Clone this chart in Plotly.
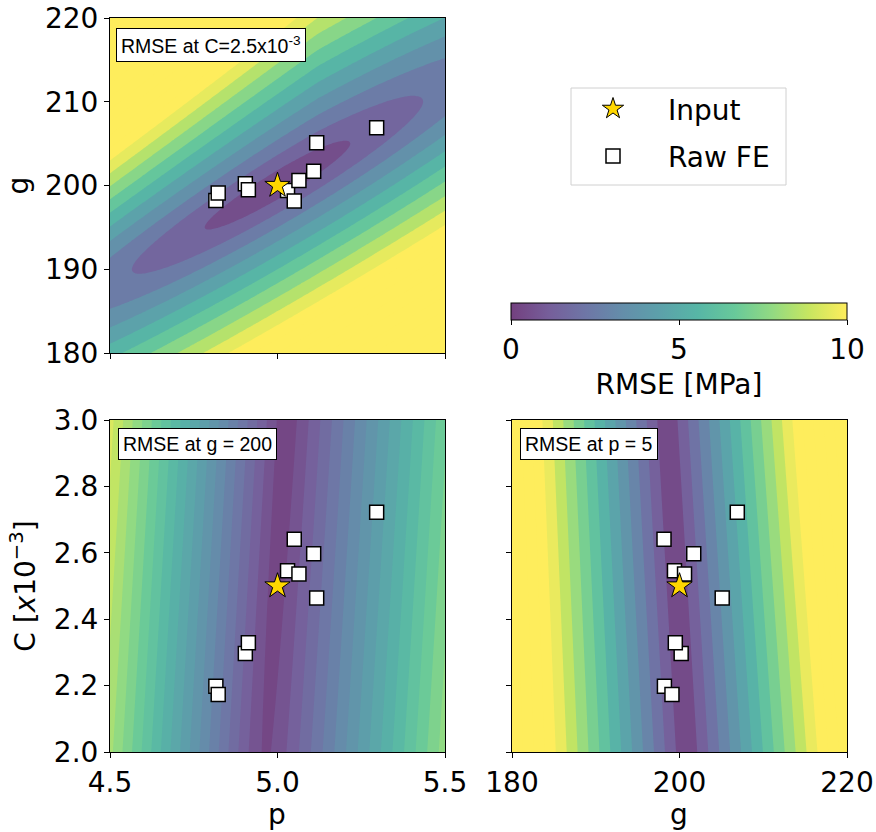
import numpy as np
import plotly.graph_objects as go

# ---------------- data ----------------
# Raw FE points (p, g, C[x1e-3])
p_fe = [4.816, 4.823, 4.904, 4.913, 5.030, 5.050, 5.064, 5.108, 5.117, 5.296]
g_fe = [198.2, 199.1, 200.2, 199.5, 199.4, 198.15, 200.6, 201.7, 205.1, 206.9]
C_fe = [2.198, 2.173, 2.297, 2.329, 2.546, 2.641, 2.536, 2.597, 2.464, 2.722]
# Input point
p_in = [5.0]
g_in = [200.0]
C_in = [2.5]

# RMSE surface descriptors estimated from the contour bands
# top panel (C = 2.5e-3): valley line slope dg/dp, cross gradients, along gradient, level step
top_valley_slope = 23.0
top_cross_grad = [0.60, 0.52]      # below / above valley [MPa per unit g]
top_upper_gain = 0.47              # extra steepening of upper side for low p
top_upper_ref = 5.12
top_along_grad = 4.6               # [MPa per unit p]
top_level = 1.0
# bottom-left (g = 200): valley p at C=2.0 / 3.0, slopes left/right, floor at C=2.0/3.0
bl_valley = [4.965, 5.025]
bl_slopes = [17.5, 14.5]
bl_floor = [0.45, 0.15]
bl_level = 0.5
# bottom-right (p = 5): valley g at C=2.0 / 3.0, slopes at C=2.0 / 3.0
br_valley = [200.85, 198.55]
br_slopes = [0.64, 0.67]
br_floor = 0.2
br_level = 10.0 / 12.0

# ---------------- surfaces ----------------
n = 161
pp = np.linspace(4.5, 5.5, n)
gg = np.linspace(180, 220, n)
cc = np.linspace(2.0, 3.0, n)

P, G = np.meshgrid(pp, gg)
u = G - (g_in[0] + top_valley_slope * (P - p_in[0]))
b = np.where(u > 0,
             top_cross_grad[1] * (1 + top_upper_gain * np.clip(top_upper_ref - P, 0, None)),
             top_cross_grad[0])
Z_top = np.sqrt((b * u) ** 2 + (top_along_grad * (P - p_in[0])) ** 2)

P2, C2 = np.meshgrid(pp, cc)
t2 = (C2 - 2.0)
p0 = bl_valley[0] + t2 * (bl_valley[1] - bl_valley[0])
fl = bl_floor[0] + t2 * (bl_floor[1] - bl_floor[0])
dp = P2 - p0
Z_bl = np.sqrt((np.where(dp < 0, bl_slopes[0], bl_slopes[1]) * dp) ** 2 + fl ** 2)

G3, C3 = np.meshgrid(gg, cc)
t3 = (C3 - 2.0)
g0 = br_valley[0] + t3 * (br_valley[1] - br_valley[0])
k3 = br_slopes[0] + t3 * (br_slopes[1] - br_slopes[0])
Z_br = np.sqrt((k3 * (G3 - g0)) ** 2 + br_floor ** 2)

# ---------------- colours ----------------
vir = ['#440154', '#482878', '#3e4989', '#31688e', '#26828e',
       '#1f9e89', '#35b779', '#6ece58', '#b5de2b', '#fde725']
alpha = 0.75


def blend(h):
    r, g, bb = int(h[1:3], 16), int(h[3:5], 16), int(h[5:7], 16)
    f = lambda c: round(alpha * c + (1 - alpha) * 255)
    return f'rgb({f(r)},{f(g)},{f(bb)})'


cscale = [[i / 9, blend(c)] for i, c in enumerate(vir)]

W, H = 876, 832
TICKF = dict(family='DejaVu Sans', size=28, color='black')
BOXF = dict(family='Liberation Sans, Arial', size=19.5, color='black')


def contour(x, y, z, step, xa, ya):
    return go.Contour(x=x, y=y, z=z, colorscale=cscale, zmin=0, zmax=10,
                      autocontour=False,
                      contours=dict(start=0, end=40, size=step, coloring='fill', showlines=False),
                      line=dict(width=0, smoothing=1), showscale=False,
                      hoverinfo='skip', xaxis=xa, yaxis=ya)


fig = go.Figure()
fig.add_trace(contour(pp, gg, Z_top, top_level, 'x', 'y'))
fig.add_trace(contour(pp, cc, Z_bl, bl_level, 'x2', 'y2'))
fig.add_trace(contour(gg, cc, Z_br, br_level, 'x3', 'y3'))

sq = dict(symbol='square', size=14, color='white', line=dict(color='black', width=1.5))
st = dict(symbol='star', size=19, color='#FFD700', line=dict(color='black', width=1))

panels = [(p_fe, g_fe, p_in, g_in, 'x', 'y'),
          (p_fe, C_fe, p_in, C_in, 'x2', 'y2'),
          (g_fe, C_fe, g_in, C_in, 'x3', 'y3')]
for i, (xf, yf, xi, yi, xa, ya) in enumerate(panels):
    fig.add_trace(go.Scatter(x=xf, y=yf, mode='markers', marker=sq, name='Raw FE',
                             legendgroup='fe', legendrank=2, showlegend=(i == 0),
                             hoverinfo='skip', xaxis=xa, yaxis=ya))
    fig.add_trace(go.Scatter(x=xi, y=yi, mode='markers', marker=st, name='Input',
                             legendgroup='in', legendrank=1, showlegend=(i == 0),
                             hoverinfo='skip', xaxis=xa, yaxis=ya))

# colorbar carrier
fig.add_trace(go.Scatter(
    x=p_in, y=g_in, mode='markers', showlegend=False, hoverinfo='skip',
    marker=dict(size=0.1, opacity=0, color=[0], cmin=0, cmax=10, colorscale=cscale,
                showscale=True,
                colorbar=dict(orientation='h', x=679 / W, xanchor='center',
                              y=1 - 303 / H, yanchor='top', len=336 / W, lenmode='fraction',
                              thickness=17, thicknessmode='pixels',
                              outlinecolor='black', outlinewidth=1,
                              tickvals=[0, 5, 10], ticks='outside', ticklen=5,
                              tickcolor='black', tickfont=TICKF,
                              title=dict(text='RMSE [MPa]', side='bottom', font=TICKF),
                              xpad=0, ypad=0)),
    xaxis='x', yaxis='y'))


def ax(dom, rng, tickvals, labels=True, fmt=None, title=None, anchor=None, standoff=8):
    d = dict(domain=dom, range=rng, tickvals=tickvals, showticklabels=labels,
             ticks='outside', ticklen=5, tickwidth=1.1, tickcolor='black',
             showline=True, linecolor='black', linewidth=1.1, mirror=True,
             showgrid=False, zeroline=False, tickfont=TICKF, anchor=anchor,
             automargin=False)
    if fmt:
        d['tickformat'] = fmt
    if title:
        d['title'] = dict(text=title, font=TICKF, standoff=standoff)
    return d


xl = [110 / W, 445 / W]
xr = [512 / W, 847 / W]
yt = [1 - 353 / H, 1 - 18 / H]
yb = [1 - 752 / H, 1 - 420 / H]

box = dict(xref='paper', yref='paper', xanchor='left', yanchor='top', showarrow=False,
           font=BOXF, bgcolor='white', bordercolor='black', borderwidth=1, borderpad=4)
xtitle = dict(xref='paper', yref='paper', xanchor='center', yanchor='top',
              showarrow=False, font=TICKF, borderpad=0)

fig.update_layout(
    width=W, height=H, margin=dict(l=0, r=0, t=0, b=0, autoexpand=False),
    paper_bgcolor='white', plot_bgcolor='white',
    xaxis=ax(xl, [4.5, 5.5], [4.5, 5.0, 5.5], labels=False, anchor='y'),
    yaxis=ax(yt, [180, 220], [180, 190, 200, 210, 220], title='g', anchor='x'),
    xaxis2=ax(xl, [4.5, 5.5], [4.5, 5.0, 5.5], fmt='.1f', anchor='y2'),
    yaxis2=ax(yb, [2.0, 3.0], [2.0, 2.2, 2.4, 2.6, 2.8, 3.0], fmt='.1f',
              title='C [<i>x</i>10<sup>−3</sup>]', anchor='x2', standoff=10),
    xaxis3=ax(xr, [180, 220], [180, 200, 220], anchor='y3'),
    yaxis3=ax(yb, [2.0, 3.0], [2.0, 2.2, 2.4, 2.6, 2.8, 3.0], labels=False, anchor='x3'),
    showlegend=True,
    legend=dict(x=558 / W, y=1 - 84 / H, xanchor='left', yanchor='top',
                bgcolor='rgba(0,0,0,0)', borderwidth=0, font=TICKF,
                itemwidth=100, tracegroupgap=8, traceorder='grouped'),
    shapes=[dict(type='rect', xref='paper', yref='paper', x0=571 / W, x1=786 / W,
                 y0=1 - 185 / H, y1=1 - 88 / H, line=dict(color='#d0d0d0', width=1),
                 fillcolor='rgba(255,255,255,0.8)', layer='below')],
    annotations=[
        dict(text='RMSE at C=2.5x10<sup>-3</sup>', x=116 / W, y=1 - 28 / H, **box),
        dict(text='RMSE at g = 200', x=118 / W, y=1 - 428 / H, **box),
        dict(text='RMSE at p = 5', x=520 / W, y=1 - 428 / H, **box),
        dict(text='p', x=277 / W, y=1 - 797 / H, **xtitle),
        dict(text='g', x=679 / W, y=1 - 797 / H, **xtitle),
    ],
)

fig.write_html('out.html')
